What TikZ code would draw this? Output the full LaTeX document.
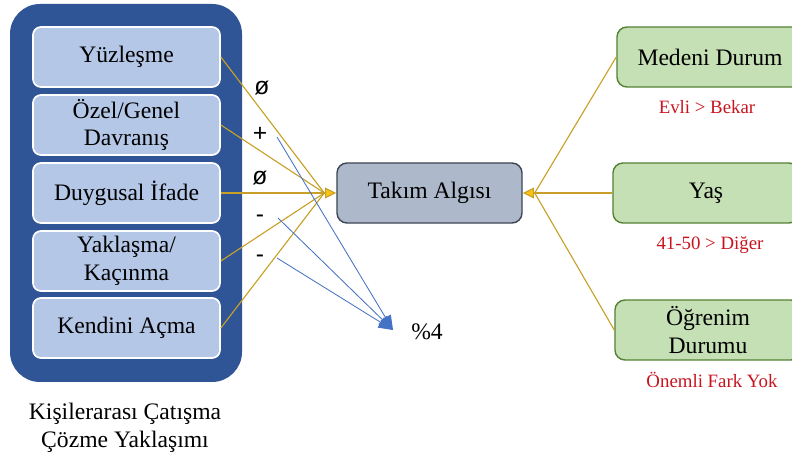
\documentclass[tikz,border=0pt]{standalone}
\usepackage{fontspec}
\setmainfont{Liberation Serif}
\newfontfamily\isaretfont{Liberation Sans}
\usetikzlibrary{arrows.meta}
\definecolor{koyumavi}{RGB}{47,85,151}
\definecolor{acikmavi}{RGB}{180,199,231}
\definecolor{grimavi}{RGB}{173,185,202}
\definecolor{grikenar}{RGB}{62,70,84}
\definecolor{acikyesil}{RGB}{197,224,180}
\definecolor{koyuyesil}{RGB}{84,130,53}
\definecolor{altin}{RGB}{200,160,40}
\definecolor{sari}{RGB}{250,195,20}
\definecolor{cizgimavi}{RGB}{68,114,196}
\definecolor{kirmizi}{RGB}{200,20,30}
\begin{document}
\begin{tikzpicture}[x=0.025cm,y=-0.025cm,
  yazi/.style={font=\fontsize{16.8}{19.5}\selectfont,align=center},
  solkutu/.style={yazi,draw=white,line width=1.2pt,fill=acikmavi,rounded corners=0.2cm,
    minimum width=4.675cm,minimum height=1.5cm,inner sep=0pt},
  takimkutu/.style={yazi,draw=grikenar,line width=1pt,fill=grimavi,rounded corners=0.25cm,
    minimum width=4.625cm,minimum height=1.5cm},
  sagkutu/.style={yazi,draw=koyuyesil,line width=1pt,fill=acikyesil,rounded corners=0.25cm,
    minimum width=4.65cm,minimum height=1.5cm,inner sep=0pt},
  fark/.style={text=kirmizi,font=\fontsize{13.4}{15}\selectfont},
  isaret/.style={font=\isaretfont\fontsize{17.5}{19}\selectfont},
  etki/.style={altin,line width=0.8pt},
  ucok/.style={altin,line width=0.8pt,-{Triangle[width=0.27cm,length=0.28cm,fill=sari]}},
  oran/.style={cizgimavi,line width=0.6pt,-{Triangle[width=0.3cm,length=0.36cm]}}]
\useasboundingbox (0,0) rectangle (792,464);
\fill[koyumavi,rounded corners=0.75cm] (10,4) rectangle (242,382);
\node[solkutu] (yuz) at (126.5,57) {Yüzleşme};
\node[solkutu] (ozel) at (126.5,125) {Özel/Genel\\Davranış};
\node[solkutu] (duygu) at (126.5,193) {Duygusal İfade};
\node[solkutu] (yakl) at (126.5,261) {Yaklaşma/\\Kaçınma};
\node[solkutu] (kendi) at (126.5,328) {Kendini Açma};
\node[yazi] (baslik) at (125,428) {Kişilerarası Çatışma\\Çözme Yaklaşımı};
\node[takimkutu] (takim) at (429.5,193) {Takım Algısı};
\node[sagkutu] (medeni) at (710,57) {Medeni Durum};
\node[sagkutu] (yas) at (706,193) {Yaş};
\node[sagkutu] (ogrenim) at (708,330) {Öğrenim\\Durumu};
\node[fark] (evli) at (707,107) {Evli > Bekar};
\node[fark] (yasfark) at (710,245) {41-50 > Diğer};
\node[fark] (ogrfark) at (712,380) {Önemli Fark Yok};
\coordinate (solucu) at ([xshift=-0.3cm]takim.west);
\coordinate (sagucu) at ([xshift=0.3cm]takim.east);
\draw[etki] (yuz.east) -- (solucu);
\draw[etki] (ozel.east) -- (solucu);
\draw[etki] (duygu.east) -- (solucu);
\draw[etki] (yakl.east) -- (solucu);
\draw[etki] (kendi.east) -- (solucu);
\draw[ucok] (solucu) -- (takim.west);
\draw[etki] (medeni.west) -- (sagucu);
\draw[etki] (yas.west) -- (sagucu);
\draw[etki] (ogrenim.west) -- (sagucu);
\draw[ucok] (sagucu) -- (takim.east);
\node[isaret] (s1) at (262,88) {ø};
\node[isaret] (s2) at (260,134) {+};
\node[isaret] (s3) at (260,178) {ø};
\node[isaret] (s4) at (260,219) {-};
\node[isaret] (s5) at (260,259) {-};
\coordinate (b2) at (277,137);
\coordinate (b4) at (278,218);
\coordinate (b5) at (277,258);
\coordinate (hedef) at (393,330);
\node[yazi] (dort) at (427,332) {\%4};
\draw[oran] (b2) -- (hedef);
\draw[oran] (b4) -- (hedef);
\draw[oran] (b5) -- (hedef);
\end{tikzpicture}
\end{document}
